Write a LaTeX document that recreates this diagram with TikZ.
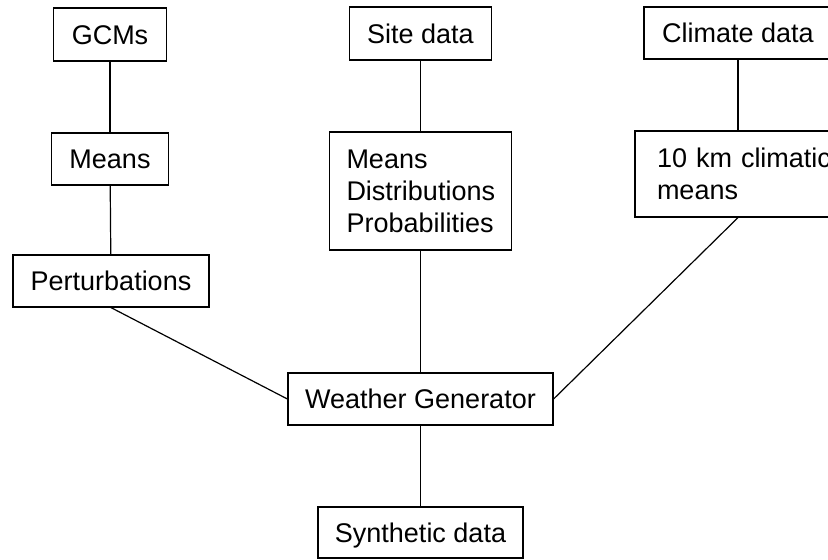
\documentclass[tikz,border=0pt]{standalone}
\usepackage{fontspec}
\setmainfont{Liberation Sans}
\usetikzlibrary{positioning}

\begin{document}
\begin{tikzpicture}[x=1pt, y=-1pt,
      box/.style={rectangle, draw=black, line width=1.2pt, inner sep=0pt, align=center, text height=19.5pt, text depth=0pt, font=\fontsize{27}{33}\selectfont},
      listbox/.style={rectangle, draw=black, line width=1.2pt, inner ysep=0pt, align=left, font=\fontsize{27}{32}\selectfont},
      outbox/.style={box, line width=2.5pt},
      link/.style={-, line width=1.2pt},
    ]
    \useasboundingbox (0,0) rectangle (828,560);

    % left column
    \node[box, minimum width=113pt, minimum height=53pt] (gcm) at (110,34.5) {GCMs};
    \node[box, minimum width=117pt, minimum height=52pt] (meansl) at (110,159) {Means};
    \node[box, minimum width=196pt, minimum height=52pt] (pert) at (111,281) {Perturbations};

    % middle column
    \node[box, minimum width=142pt, minimum height=53pt] (site) at (420.5,33.5) {Site data};
    \node[listbox, text width=148pt, inner xsep=17pt, minimum height=118pt] (stats) at (420.5,191) {Means\\Distributions\\Probabilities};

    % right column
    \node[box, minimum width=188pt, minimum height=52pt] (climate) at (738,33) {Climate data};
    \node[listbox, text width=162pt, inner xsep=22pt, minimum height=86pt] (tenkm) at (738,174) {\mbox{10 km climatic}\\means};

    \node[box, minimum width=265pt, minimum height=52pt] (wg) at (420.5,399) {Weather Generator};
    \node[outbox, minimum width=205pt, minimum height=51pt] (synth) at (420.5,532.5) {Synthetic data};

    \draw[link] (gcm) -- (meansl);
    \draw[link] (meansl) -- (pert);
    \draw[link] (site) -- (stats);
    \draw[link] (stats) -- (wg);
    \draw[link] (climate) -- (tenkm);
    \draw[link] (pert.south) -- (wg.west);
    \draw[link] (tenkm.south) -- (wg.east);
    \draw[link] (wg) -- (synth);
  \end{tikzpicture}
\end{document}
